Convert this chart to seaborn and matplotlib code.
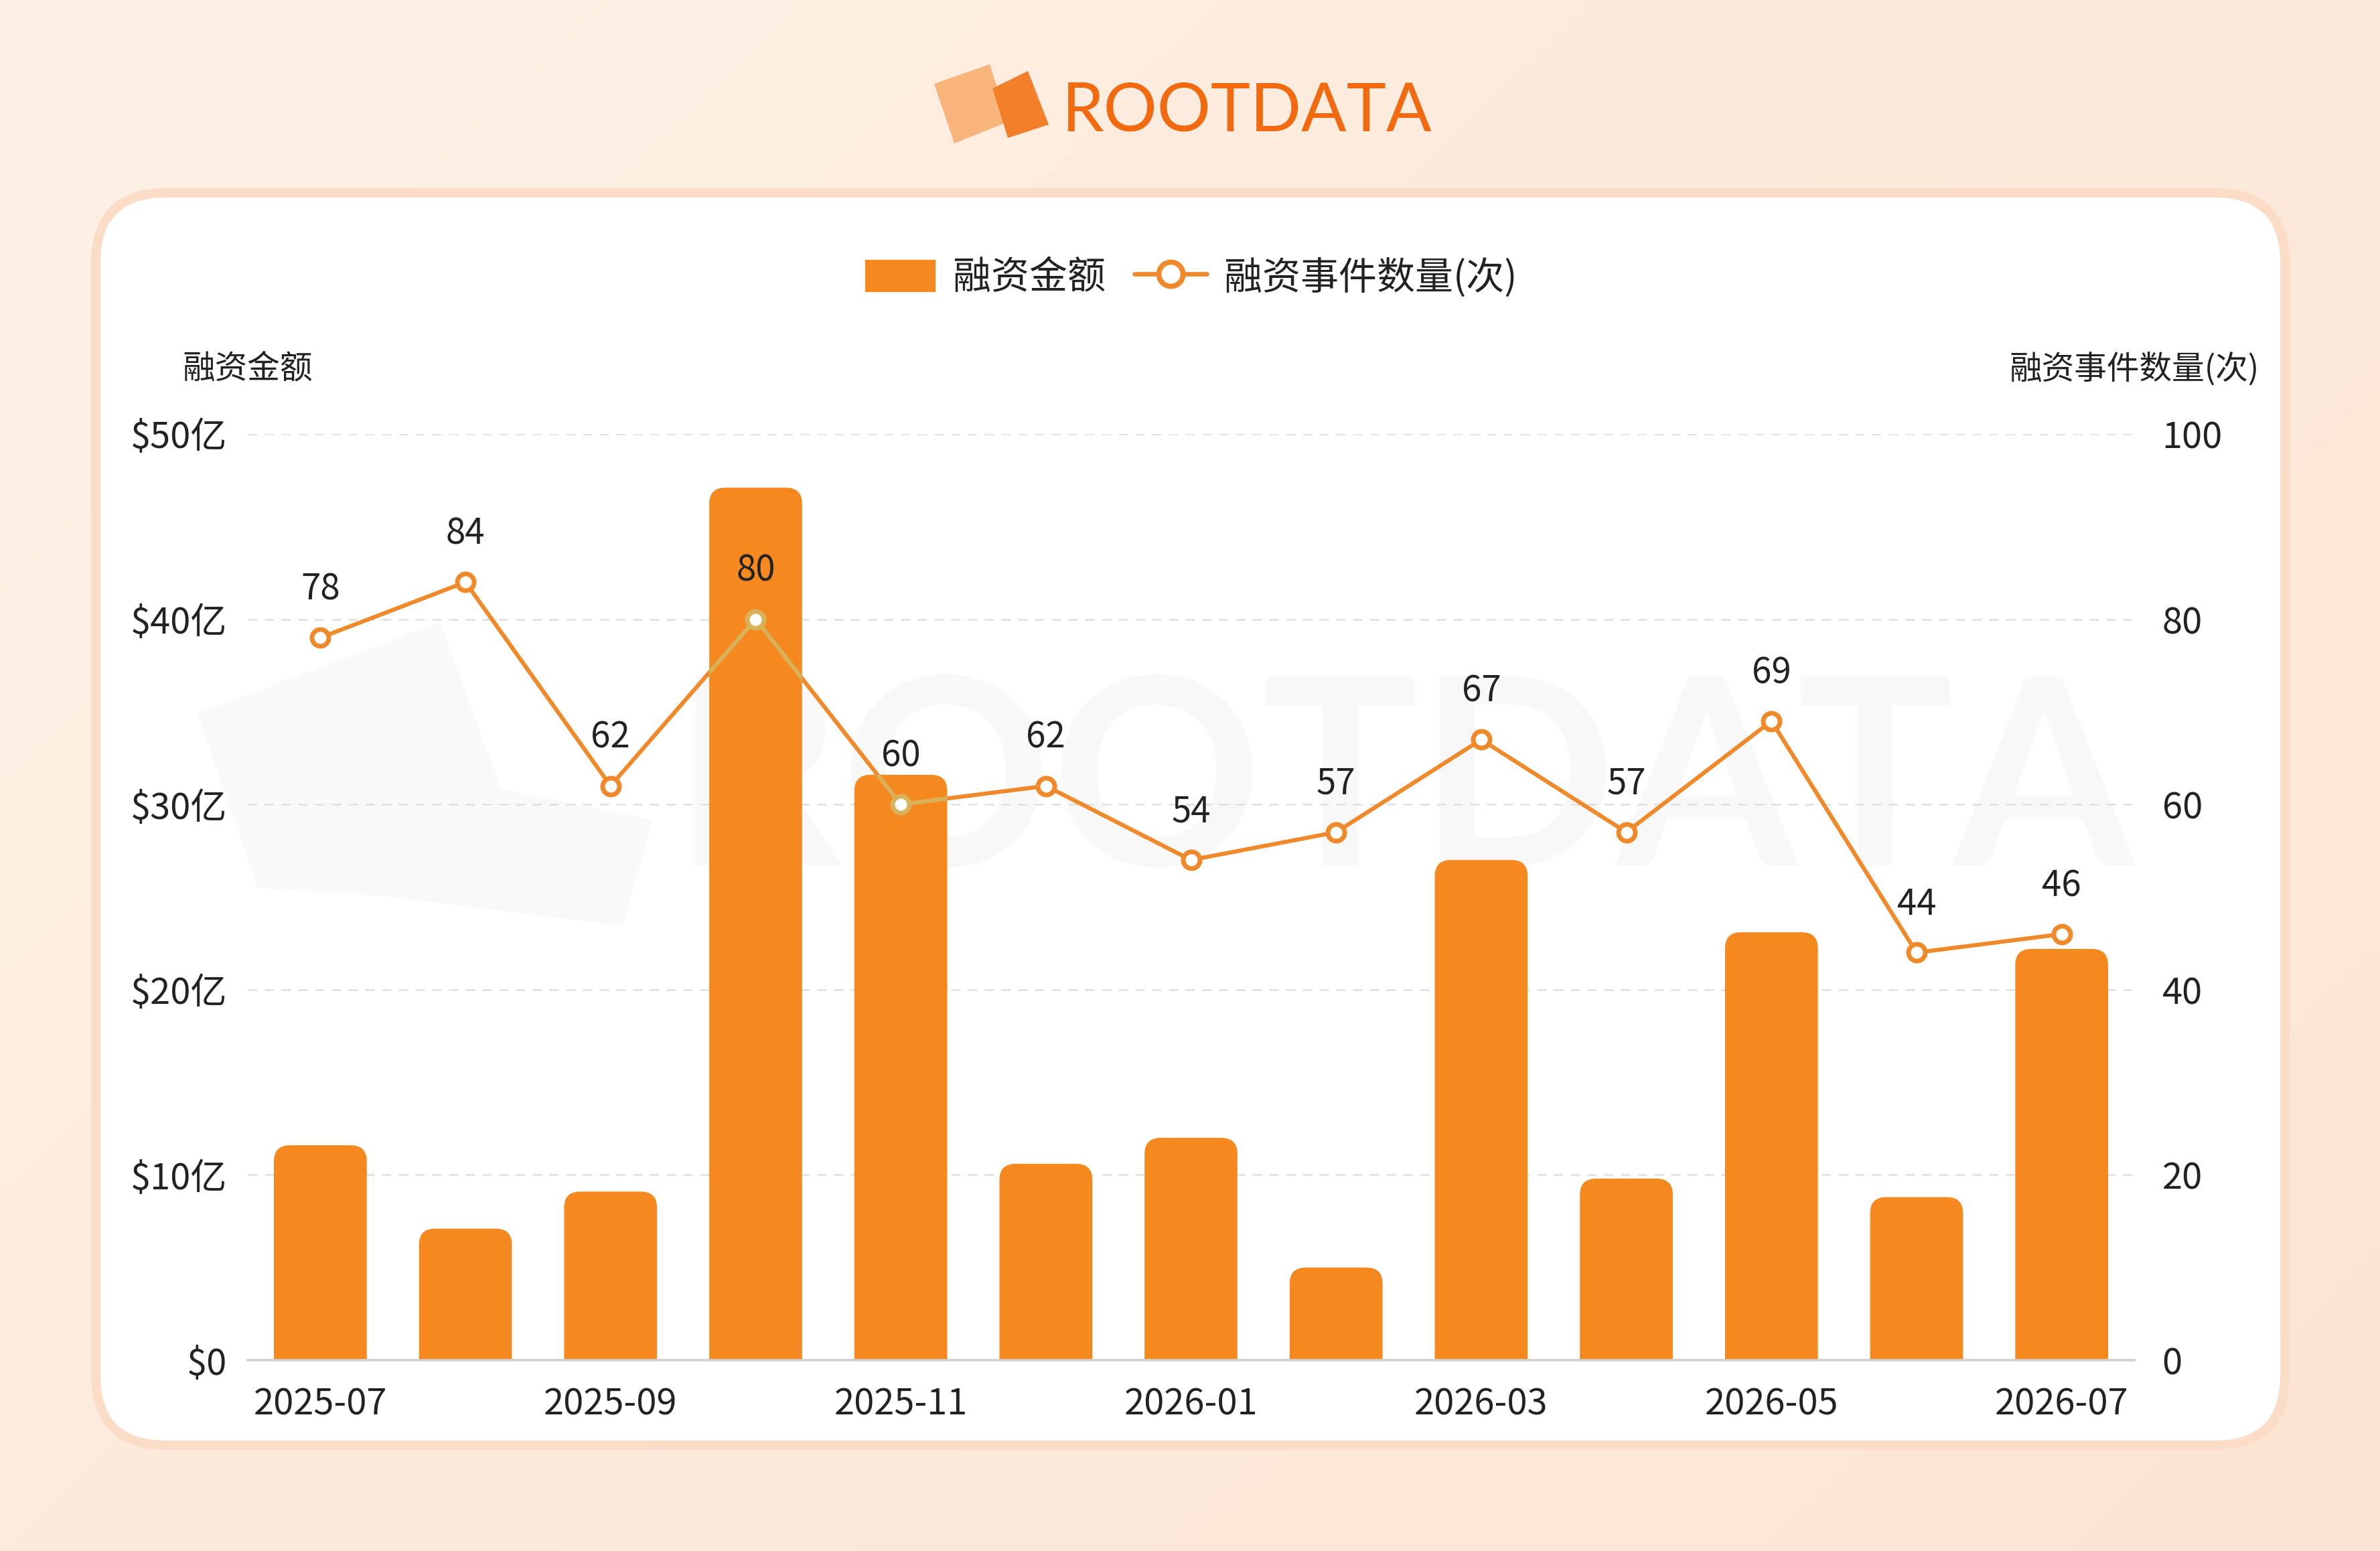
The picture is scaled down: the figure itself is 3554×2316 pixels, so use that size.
import numpy as np
import matplotlib
matplotlib.use("Agg")
import matplotlib.pyplot as plt
import seaborn as sns
from matplotlib.patches import FancyBboxPatch, Patch, Polygon
from matplotlib.lines import Line2D

# data
months = ["2025-07", "2025-08", "2025-09", "2025-10", "2025-11", "2025-12", "2026-01",
          "2026-02", "2026-03", "2026-04", "2026-05", "2026-06", "2026-07"]
amounts = [11.6, 7.1, 9.1, 47.1, 31.6, 10.6, 12.0, 5.0, 27.0, 9.8, 23.1, 8.8, 22.2]  # 亿美元
counts = [78, 84, 62, 80, 60, 62, 54, 57, 67, 57, 69, 44, 46]
left_ticks = [0, 10, 20, 30, 40, 50]
left_labels = ["$0", "$10亿", "$20亿", "$30亿", "$40亿", "$50亿"]
right_ticks = [0, 20, 40, 60, 80, 100]
shown_months = months[::2]

bar_color = "#F5891F"
line_color = "#F0892A"
over_bar_color = "#D9B158"
txt = "#222222"

sns.set_theme(style="white")
plt.rcParams['font.family'] = ['Noto Sans CJK SC', 'DejaVu Sans']

W, H, DPI = 3555, 2316, 200
fig = plt.figure(figsize=(W / DPI, H / DPI), dpi=DPI)

# background, card, logo, watermark (pixel coords)
bg = fig.add_axes([0, 0, 1, 1], zorder=-5)
bg.set_xlim(0, W)
bg.set_ylim(0, H)
bg.axis('off')
yy, xx = np.mgrid[0:1:200j, 0:1:300j]
t = xx * 0.6 + (1 - yy) * 0.4
c0 = np.array([253, 241, 230]) / 255
c1 = np.array([252, 228, 210]) / 255
bg.imshow(c0 + (c1 - c0) * t[..., None], extent=[0, W, 0, H], origin='lower', aspect='auto', zorder=0)

card = FancyBboxPatch((143, 158), 3412 - 143, 2028 - 158, boxstyle="round,pad=0,rounding_size=105",
                      fc="white", ec="#FBDCC6", lw=5, zorder=1)
bg.add_patch(card)

bg.text(1862, H - 195, "ROOTDATA", fontsize=36, family=["Lato", "DejaVu Sans"], fontweight="normal",
        color="#F26A0F", ha="center", va="baseline", zorder=3)
flag_l = [(1395, 125), (1478, 96), (1505, 182), (1425, 214)]
flag_r = [(1482, 132), (1535, 106), (1566, 186), (1505, 206)]
bg.add_patch(Polygon([(x, H - y) for x, y in flag_l], closed=True, fc="#F9B47C", ec="none", zorder=3))
bg.add_patch(Polygon([(x, H - y) for x, y in flag_r], closed=True, fc="#F2802A", ec="none", zorder=3))

bg.text(2097, H - 1292, "ROOTDATA", fontsize=140, family=["Lato", "DejaVu Sans"], fontweight="bold",
        color="#F8F8F8", ha="center", va="baseline", zorder=2)
wm = [(130, 470), (290, 410), (330, 520), (430, 540), (410, 610), (250, 590), (170, 585)]
bg.add_patch(Polygon([(x * 2.267, H - y * 2.267) for x, y in wm], closed=True, fc="#F9F9F9",
                     ec="none", zorder=2))

# main chart
ax = fig.add_axes([370 / W, 285 / H, (3187 - 370) / W, (2031 - 648) / H], zorder=1)
ax.set_facecolor("none")
sns.barplot(x=months, y=amounts, ax=ax, color=bar_color, width=0.64, saturation=1)
ax.set_xlim(-0.5, len(months) - 0.5)
ax.set_ylim(0, 50)

# rounded tops on bars
ax_w = (3187 - 370)
ax_h = (2031 - 648)
px_x = ax_w / len(months)
px_y = ax_h / 50
rad = 24
rx = rad / px_x
asp = px_x / px_y
bars = []
for p in list(ax.patches):
    x, y, w, h = p.get_x(), p.get_y(), p.get_width(), p.get_height()
    p.remove()
    ry = rad / px_y
    fb = FancyBboxPatch((x, y - ry), w, h + ry, boxstyle=f"round,pad=0,rounding_size={rx}",
                        mutation_aspect=asp, fc=bar_color, ec="none", zorder=1)
    ax.add_patch(fb)
    bars.append(fb)

ax.set_axisbelow(True)
ax.yaxis.grid(True, color="#E2E2E2", linestyle=(0, (5, 4)), linewidth=1.0)
ax.xaxis.grid(False)
ax.set_yticks(left_ticks)
ax.set_yticklabels(left_labels)
ax.set_xticks(range(0, len(months), 2))
ax.set_xticklabels(shown_months)
ax.tick_params(axis='y', length=0, pad=11, labelsize=19.5, labelcolor=txt)
ax.tick_params(axis='x', length=0, pad=14, labelsize=19.5, labelcolor=txt)
ax.set_xlabel("")
ax.set_ylabel("")
for s in ["top", "left", "right"]:
    ax.spines[s].set_visible(False)
ax.spines["bottom"].set_color("#CFCFCF")
ax.spines["bottom"].set_linewidth(1.3)

ax2 = ax.twinx()
xs = np.arange(len(months))
sns.lineplot(x=xs, y=counts, ax=ax2, color=line_color, lw=2.2, marker='o', markersize=9,
             markerfacecolor="white", markeredgecolor=line_color, markeredgewidth=2.5)
# the line looks tan where it crosses the bars
for fb in bars:
    ln, = ax2.plot(xs, counts, color=over_bar_color, lw=2.2, marker='o', markersize=9,
                   markerfacecolor="white", markeredgecolor=over_bar_color, markeredgewidth=2.5)
    ln.set_clip_path(fb)
ax2.set_ylim(0, 100)
ax2.set_yticks(right_ticks)
ax2.tick_params(axis='y', length=0, pad=15, labelsize=19.5, labelcolor=txt)
ax2.set_ylabel("")
for s in ax2.spines.values():
    s.set_visible(False)

for i, v in enumerate(counts):
    ax2.annotate(str(v), (i, v), xytext=(0, 26), textcoords="offset points",
                 ha="center", va="center", fontsize=19, color=txt)

ax.text(0, 1.07, "融资金额", transform=ax.transAxes, ha="center", va="center", fontsize=17.5, color=txt)
ax.text(1, 1.07, "融资事件数量(次)", transform=ax.transAxes, ha="center", va="center",
        fontsize=17.5, color=txt)

handles = [Patch(facecolor=bar_color, label="融资金额"),
           Line2D([0], [0], color=line_color, lw=2.4, marker='o', ms=13, mfc="white",
                  mec=line_color, mew=2.8, label="融资事件数量(次)")]
fig.legend(handles=handles, loc="center", bbox_to_anchor=(0.5, 0.821), ncol=2, frameon=False,
           fontsize=20.5, handlelength=1.9, handleheight=1.0, handletextpad=0.45, columnspacing=0.75,
           labelcolor=txt)

fig.savefig("out.png", dpi=DPI)
